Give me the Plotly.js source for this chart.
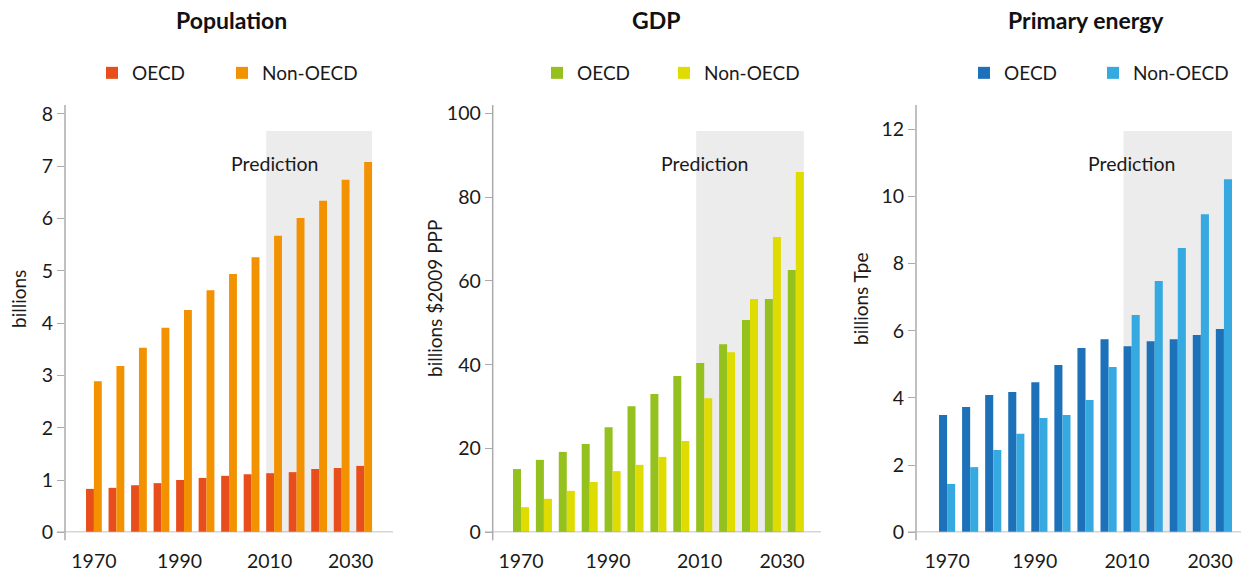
<!DOCTYPE html>
<html>
<head>
<meta charset="utf-8">
<script src="https://cdn.plot.ly/plotly-3.0.1.min.js"></script>
<style>
  html, body { margin: 0; padding: 0; background: #fff; }
  #chart { width: 1241px; height: 572px; }
</style>
</head>
<body>
<div id="chart"></div>
<script>
// ---------- data ----------
const years = [1970, 1975, 1980, 1985, 1990, 1995, 2000, 2005, 2010, 2015, 2020, 2025, 2030];

const popOECD    = [0.83, 0.85, 0.90, 0.94, 1.00, 1.04, 1.08, 1.11, 1.13, 1.15, 1.21, 1.23, 1.27];
const popNonOECD = [2.89, 3.18, 3.53, 3.91, 4.25, 4.63, 4.94, 5.26, 5.67, 6.01, 6.34, 6.74, 7.08];

const gdpOECD    = [15.1, 17.3, 19.2, 21.1, 25.1, 30.1, 33.0, 37.3, 40.4, 44.9, 50.7, 55.7, 62.6];
const gdpNonOECD = [6.0, 8.0, 9.9, 12.0, 14.6, 16.1, 18.0, 21.8, 32.0, 43.0, 55.7, 70.5, 86.0];

const enOECD    = [3.49, 3.73, 4.09, 4.18, 4.47, 4.98, 5.49, 5.75, 5.54, 5.69, 5.75, 5.87, 6.05];
const enNonOECD = [1.44, 1.94, 2.45, 2.93, 3.40, 3.49, 3.94, 4.92, 6.47, 7.48, 8.46, 9.47, 10.51];

const panelTitles = ["Population", "GDP", "Primary energy"];
const yTitles = ["billions", "billions $2009 PPP", "billions Tpe"];
const seriesNames = ["OECD", "Non-OECD"];
const tickYears = [1970, 1989, 2009, 2027];
const tickLabels = ["1970", "1990", "2010", "2030"];
const predictionLabel = "Prediction";

// ---------- styling ----------
const FONT = "Lato, 'Open Sans', sans-serif";
const W = 1241, H = 572;
const colors = [["#E84E1B", "#F39200"], ["#95C11F", "#DEDC00"], ["#1D71B8", "#36A9E1"]];
const axisGrey = "#ababab";

const panels = [
  {oecd: popOECD, non: popNonOECD, dom: [65, 393], xr: [1963.58, 2036.4], yr: [0, 8.17], dtick: 1, ytx: 18, lx: [112, 242], tx: 231},
  {oecd: gdpOECD, non: gdpNonOECD, dom: [492.7, 821], xr: [1963.82, 2035.5], yr: [0, 102], dtick: 20, ytx: 434, lx: [557, 684], tx: 656},
  {oecd: enOECD, non: enNonOECD, dom: [916, 1241], xr: [1963.26, 2033.7], yr: [0, 12.72], dtick: 2, ytx: 860, lx: [984, 1113], tx: 1086}
];

const yDom = [(H - 532.3) / H, (H - 105) / H];
const plotH = 532.3 - 105;

const traces = [];
const layout = {
  width: W, height: H,
  margin: {l: 0, r: 0, t: 0, b: 0},
  paper_bgcolor: "#fff", plot_bgcolor: "rgba(0,0,0,0)",
  font: {family: FONT, size: 19, color: "#1a1a1a"},
  barmode: "group", bargap: 0.3, bargroupgap: 0,
  showlegend: true,
  shapes: [], annotations: []
};

let legendCount = 0;
function legendFor(xCenter) {
  legendCount += 1;
  const key = legendCount === 1 ? "legend" : "legend" + legendCount;
  layout[key] = {
    orientation: "h", x: (xCenter - 20) / W, xanchor: "left", y: 1 - 73 / H, yanchor: "middle",
    bgcolor: "rgba(0,0,0,0)", borderwidth: 0,
    font: {family: FONT, size: 19, color: "#1a1a1a"}
  };
  return key;
}

panels.forEach((p, i) => {
  const n = i + 1;
  const xa = n === 1 ? "x" : "x" + n;
  const ya = n === 1 ? "y" : "y" + n;
  const domW = p.dom[1] - p.dom[0];

  traces.push({type: "bar", x: years, y: p.oecd, name: seriesNames[0], xaxis: xa, yaxis: ya,
    legend: legendFor(p.lx[0]), marker: {color: colors[i][0], line: {width: 0}}, hoverinfo: "x+y+name"});
  traces.push({type: "bar", x: years, y: p.non, name: seriesNames[1], xaxis: xa, yaxis: ya,
    legend: legendFor(p.lx[1]), marker: {color: colors[i][1], line: {width: 0}}, hoverinfo: "x+y+name"});

  layout["xaxis" + (n === 1 ? "" : n)] = {
    domain: [p.dom[0] / W, p.dom[1] / W], range: p.xr, anchor: ya,
    showgrid: false, zeroline: false, showline: false,
    tickmode: "array", tickvals: tickYears, ticktext: tickLabels,
    ticks: "outside", ticklen: 11, tickcolor: "rgba(0,0,0,0)",
    tickfont: {family: FONT, size: 19.5, color: "#1a1a1a"}, fixedrange: true
  };
  layout["yaxis" + (n === 1 ? "" : n)] = {
    domain: yDom, range: p.yr, anchor: xa,
    showgrid: false, zeroline: false, showline: false,
    dtick: p.dtick, tick0: 0,
    ticks: "outside", ticklen: 7, tickwidth: 1, tickcolor: axisGrey,
    tickfont: {family: FONT, size: 19.5, color: "#1a1a1a"},
    fixedrange: true
  };

  // prediction shading (2010 onward)
  layout.shapes.push({type: "rect", layer: "below", xref: xa, yref: ya + " domain",
    x0: 2008.25, x1: 2031.75, y0: 0, y1: (532.3 - 131) / plotH,
    fillcolor: "#ececec", line: {width: 0}});
  // x axis line (crossing slightly past y axis)
  layout.shapes.push({type: "line", xref: xa + " domain", yref: ya,
    x0: -8 / domW, x1: 1, y0: 0, y1: 0, line: {color: axisGrey, width: 1.5}});
  // y axis line (extends slightly below zero)
  layout.shapes.push({type: "line", xref: xa + " domain", yref: ya + " domain",
    x0: 0, x1: 0, y0: -8 / plotH, y1: 1, line: {color: axisGrey, width: 1.5}});

  layout.annotations.push({xref: xa, yref: ya + " domain", x: 2010, y: (532.3 - 164) / plotH,
    text: predictionLabel, showarrow: false, xanchor: "center", yanchor: "middle",
    font: {family: FONT, size: 19.5, color: "#1a1a1a"}});
  layout.annotations.push({xref: "paper", yref: "paper", x: p.tx / W,
    y: 1 - 20 / H, text: "<b>" + panelTitles[i] + "</b>", showarrow: false,
    xanchor: "center", yanchor: "middle",
    font: {family: FONT, size: 23, color: "#111"}});
  // y-axis title
  layout.annotations.push({xref: "paper", yref: "paper", x: p.ytx / W, y: 1 - 299 / H,
    text: yTitles[i], textangle: -90, showarrow: false, xanchor: "center", yanchor: "middle",
    font: {family: FONT, size: 19, color: "#1a1a1a"}});
});

Plotly.newPlot("chart", traces, layout, {displayModeBar: false, responsive: false});
</script>
</body>
</html>
